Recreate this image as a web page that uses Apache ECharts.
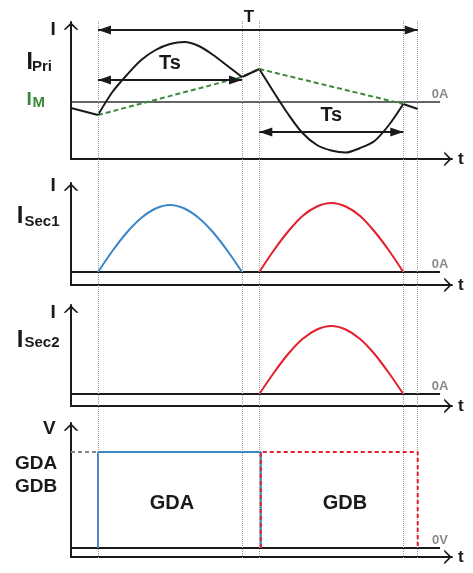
<!DOCTYPE html>
<html><head><meta charset="utf-8">
<script src="https://cdn.jsdelivr.net/npm/echarts@6/dist/echarts.min.js"></script>
<style>html,body{margin:0;padding:0;background:#fff}#c{width:473px;height:573px}</style>
</head><body><div id="c"></div>
<script>
// ---- time axis (units; Ts = 10) ----
const tMarks = [0, 10, 11.2, 21.2, 22.2];
const tStart = -1.875, tEnd = 24.58, tZeroEnd = 23.75;
const tHalf1 = [0, 1, 2, 3, 4, 5, 6, 7, 8, 9, 10];
const tHalf2 = [11.2, 12.2, 13.2, 14.2, 15.2, 16.2, 17.2, 18.2, 19.2, 20.2, 21.2];

// ---- primary current ----
const iPri1 = [-1.3, 1.0, 2.7, 4.2, 5.2, 5.8, 6.0, 5.6, 4.7, 3.6, 2.5];
const iPri2 = [3.3, 1.0, -1.2, -3.1, -4.3, -4.85, -5.05, -4.6, -3.9, -2.3, -0.2];
const iPriLinkT = [[-1.875, 0], [10, 11.2], [21.2, 22.2]];
const iPriLinkV = [[-0.6, -1.3], [2.5, 3.3], [-0.2, -0.7]];
// ---- magnetising current ----
const iMT = [0, 10, 11.2, 21.2];
const iMV = [-1.3, 2.5, 3.3, -0.2];
// ---- secondary currents ----
const iSec1A = [0, 2.1, 3.95, 5.4, 6.35, 6.7, 6.35, 5.4, 3.95, 2.1, 0];
const iSec1B = [0, 2.15, 4.05, 5.6, 6.55, 6.9, 6.55, 5.6, 4.05, 2.15, 0];
const iSec2B = [0, 2.1, 4.0, 5.5, 6.45, 6.8, 6.45, 5.5, 4.0, 2.1, 0];
// ---- gate drives ----
const gateAT = [0, 0, 11.3, 11.3];
const gateAV = [0, 9.6, 9.6, 0];
const gateBT = [11.3, 11.3, 22.2, 22.2];
const gateBV = [0, 9.6, 9.6, 0];
const gateHigh = 9.6;
// ---- time arrows ----
const arrowNames = ['T', 'Ts', 'Ts'];
const arrowFrom = [0, 0, 11.2];
const arrowTo = [22.2, 10, 21.2];
const arrowLevel = [7.2, 2.2, -3.0];
// ---- texts ----
const zeroLabels = ['0A', '0A', '0A', '0V'];
const axisNames = ['I', 'I', 'I', 'V'];
const gateNames = ['GDA', 'GDB'];
const gateNameT = [5.14, 17.15];
const gateNameV = [4.5, 4.5];

const FONT = '"Liberation Sans", Arial, Helvetica, sans-serif';
const INK = '#1a1a1a';
const BLUE = '#3a86c8', RED = '#e3202e', GREEN = '#3a8a3a', GREY = '#9a9a9a';
const SMOOTH = 0.3;
const zip = (xs, ys) => xs.map((x, i) => [x, ys[i]]);
const chevron = 'path://M0,10L10,0L20,10L17,10L10,3.2L3,10Z';

const grids = [
  {left: 71, right: 21, top: 22, height: 137},
  {left: 71, right: 21, top: 183, height: 102},
  {left: 71, right: 21, top: 305, height: 101},
  {left: 71, right: 21, top: 423, height: 134},
  {left: 71, right: 21, top: 20, height: 538}
];
const yRanges = [[-5.7, 8.0], [-1.3, 8.9], [-1.2, 8.9], [-0.9, 12.5], [0, 1]];

const axisLine = () => ({
  show: true, onZero: false, symbol: ['none', chevron], symbolSize: [15, 8], symbolOffset: [0, -4],
  lineStyle: {color: INK, width: 2}
});

const xAxis = grids.map((g, i) => ({
  gridIndex: i, type: 'value', min: tStart, max: tEnd, show: i < 4,
  name: i < 4 ? 't' : '', nameLocation: 'end', nameGap: 6,
  nameTextStyle: {fontFamily: FONT, fontSize: 17, fontWeight: 'bold', color: INK},
  axisLine: axisLine(), axisTick: {show: false}, axisLabel: {show: false}, splitLine: {show: false}
}));
const yAxis = grids.map((g, i) => ({
  gridIndex: i, type: 'value', min: yRanges[i][0], max: yRanges[i][1], show: i < 4,
  axisLine: axisLine(), axisTick: {show: false}, axisLabel: {show: false}, splitLine: {show: false}
}));

const series = [];
// dotted time markers across all panels
series.push({
  type: 'line', xAxisIndex: 4, yAxisIndex: 4, data: [[tStart, -5]], showSymbol: false, lineStyle: {opacity: 0}, z: 1,
  markLine: {silent: true, symbol: 'none', label: {show: false},
    lineStyle: {type: 'dotted', color: GREY, width: 1},
    data: tMarks.map(t => ({xAxis: t}))}
});
// zero lines
for (let p = 0; p < 4; p++) {
  series.push({
    type: 'line', xAxisIndex: p, yAxisIndex: p, data: [[tStart, 0], [tZeroEnd, 0]], showSymbol: false, z: 2,
    lineStyle: {color: p === 0 ? '#333' : INK, width: p === 0 ? 1.4 : 2},
    markPoint: {symbol: 'circle', symbolSize: 1, itemStyle: {color: 'rgba(0,0,0,0)'},
      label: {show: true, position: 'top', distance: 1, formatter: zeroLabels[p], color: '#8a8a8a',
        fontSize: 13, fontFamily: FONT, fontWeight: 'bold'},
      data: [{coord: [tZeroEnd, 0]}]}
  });
}
// panel 1
series.push({type: 'line', xAxisIndex: 0, yAxisIndex: 0, data: zip(iMT, iMV), showSymbol: false, z: 3,
  lineStyle: {color: GREEN, width: 2, type: [5, 3]}});
iPriLinkT.forEach((ts, k) => series.push({type: 'line', xAxisIndex: 0, yAxisIndex: 0, data: zip(ts, iPriLinkV[k]),
  showSymbol: false, z: 4, lineStyle: {color: INK, width: 2}}));
series.push({type: 'line', xAxisIndex: 0, yAxisIndex: 0, data: zip(tHalf1, iPri1), smooth: SMOOTH, showSymbol: false, z: 4,
  lineStyle: {color: INK, width: 2}});
series.push({type: 'line', xAxisIndex: 0, yAxisIndex: 0, data: zip(tHalf2, iPri2), smooth: SMOOTH, showSymbol: false, z: 4,
  lineStyle: {color: INK, width: 2}});
series.push({type: 'line', xAxisIndex: 0, yAxisIndex: 0, data: [[tStart, -5]], showSymbol: false, lineStyle: {opacity: 0}, z: 5,
  markLine: {silent: true, symbol: ['triangle', 'triangle'], symbolSize: [9, 13], symbolOffset: [[0, 6.5], [0, 6.5]],
    lineStyle: {color: INK, width: 2, type: 'solid'},
    data: arrowNames.map((n, k) => [
      {coord: [arrowFrom[k], arrowLevel[k]], label: {show: true, position: 'insideMiddleTop', formatter: n,
        distance: k === 0 ? 4 : 7, offset: k === 0 ? [-9, 0] : [0, 0],
        fontFamily: FONT, fontWeight: 'bold', fontSize: k === 0 ? 17 : 20, color: INK}},
      {coord: [arrowTo[k], arrowLevel[k]]}
    ])}
});
// panel 2
series.push({type: 'line', xAxisIndex: 1, yAxisIndex: 1, data: zip(tHalf1, iSec1A), smooth: SMOOTH, showSymbol: false, z: 4,
  lineStyle: {color: BLUE, width: 2}});
series.push({type: 'line', xAxisIndex: 1, yAxisIndex: 1, data: zip(tHalf2, iSec1B), smooth: SMOOTH, showSymbol: false, z: 4,
  lineStyle: {color: RED, width: 2}});
// panel 3
series.push({type: 'line', xAxisIndex: 2, yAxisIndex: 2, data: zip(tHalf2, iSec2B), smooth: SMOOTH, showSymbol: false, z: 4,
  lineStyle: {color: RED, width: 2}});
// panel 4
series.push({type: 'line', xAxisIndex: 3, yAxisIndex: 3, data: [[tStart, gateHigh], [0, gateHigh]], showSymbol: false, z: 3,
  lineStyle: {color: '#888', width: 2, type: [4, 3]}});
series.push({type: 'line', xAxisIndex: 3, yAxisIndex: 3, data: zip(gateAT, gateAV), showSymbol: false, z: 4,
  lineStyle: {color: BLUE, width: 2}});
series.push({type: 'line', xAxisIndex: 3, yAxisIndex: 3, data: zip(gateBT, gateBV), showSymbol: false, z: 5,
  lineStyle: {color: RED, width: 2, type: [4, 3]},
  markPoint: {symbol: 'circle', symbolSize: 1, itemStyle: {color: 'rgba(0,0,0,0)'},
    label: {show: true, position: 'inside', color: INK, fontSize: 20, fontWeight: 'bold', fontFamily: FONT},
    data: gateNames.map((n, k) => ({coord: [gateNameT[k], gateNameV[k]], label: {formatter: n}}))}
});

// left-side texts
const txt = (text, x, cy, size, color) => ({
  type: 'text', x: x, y: cy, silent: true,
  style: {text: text, fill: color || INK, font: 'bold ' + size + 'px ' + FONT,
    textAlign: 'left', textVerticalAlign: 'middle', align: 'left', verticalAlign: 'middle'}
});
const graphic = [
  txt(axisNames[0], 50.4, 30, 19),
  txt('I', 26.5, 62.5, 23), txt('Pri', 32, 66.5, 15),
  txt('I', 26.5, 100, 19, GREEN), txt('M', 32.5, 102.8, 15, GREEN),
  txt(axisNames[1], 50.4, 185.3, 19),
  txt('I', 16.7, 216, 24), txt('Sec1', 24.5, 221.7, 15),
  txt(axisNames[2], 50.4, 312.5, 19),
  txt('I', 16.7, 340, 24), txt('Sec2', 24.5, 343.2, 15),
  txt(axisNames[3], 43, 429, 19),
  txt(gateNames[0], 15, 463.3, 19), txt(gateNames[1], 15, 486.3, 19)
];

const chart = echarts.init(document.getElementById('c'), null, {renderer: 'canvas'});
chart.setOption({
  backgroundColor: '#fff', animation: false,
  grid: grids, xAxis: xAxis, yAxis: yAxis, series: series, graphic: graphic
});
</script></body></html>
